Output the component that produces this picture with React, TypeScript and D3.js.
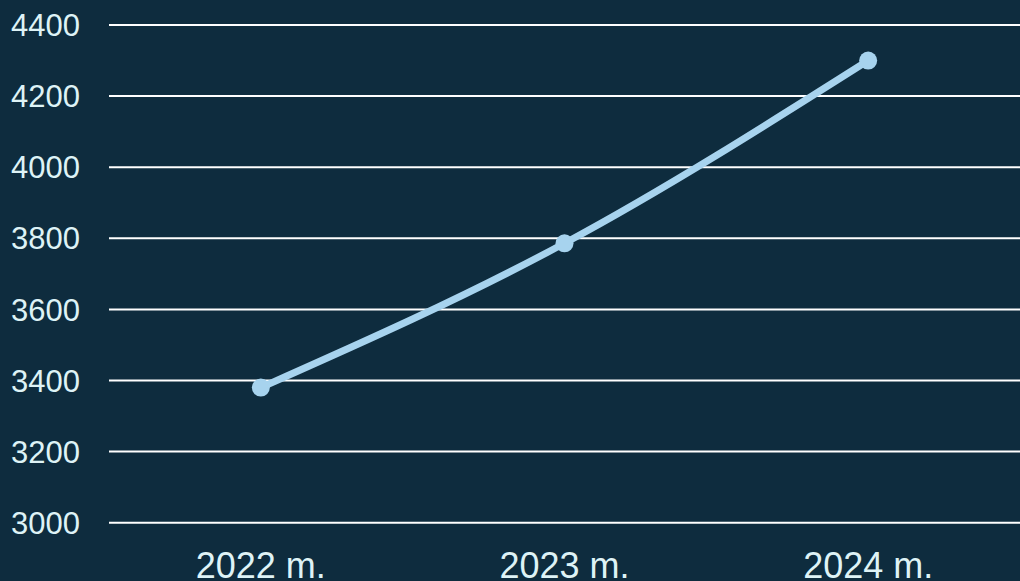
import React from "react";
import * as d3 from "d3";

const categories = ["2022 m.", "2023 m.", "2024 m."];
const values = [3380, 3786, 4300];
const yTicks = [3000, 3200, 3400, 3600, 3800, 4000, 4200, 4400];

const W = 1020;
const H = 581;
const BG = "#0e2c3e";
const TEXT = "#def3f6";
const LINE = "#a7d3ee";

export default function App() {
  const x = d3.scaleBand<string>().domain(categories).range([109, 1020]);
  const y = d3.scaleLinear().domain([3000, 4400]).range([522.7, 25]);

  const line = d3
    .line<number>()
    .x((_, i) => (x(categories[i]) as number) + x.bandwidth() / 2)
    .y((d) => y(d))
    .curve(d3.curveMonotoneX);

  return (
    <svg
      width={W}
      height={H}
      style={{ position: "absolute", left: 0, top: 0, display: "block" }}
      fontFamily="'Liberation Sans', Arial, sans-serif"
    >
      <rect width={W} height={H} fill={BG} />
      {yTicks.map((t) => (
        <g key={t}>
          <line x1={109} x2={W} y1={y(t)} y2={y(t)} stroke="#ffffff" strokeWidth={2} />
          <text x={11} y={y(t)} dy="0.36em" fontSize={31} fill={TEXT}>
            {t}
          </text>
        </g>
      ))}
      {categories.map((c) => (
        <text
          key={c}
          x={(x(c) as number) + x.bandwidth() / 2}
          y={578}
          textAnchor="middle"
          fontSize={36}
          fill={TEXT}
        >
          {c}
        </text>
      ))}
      <path d={line(values) ?? ""} fill="none" stroke={LINE} strokeWidth={7} strokeLinecap="round" />
      {values.map((v, i) => (
        <circle
          key={i}
          cx={(x(categories[i]) as number) + x.bandwidth() / 2}
          cy={y(v)}
          r={9}
          fill={LINE}
        />
      ))}
    </svg>
  );
}
